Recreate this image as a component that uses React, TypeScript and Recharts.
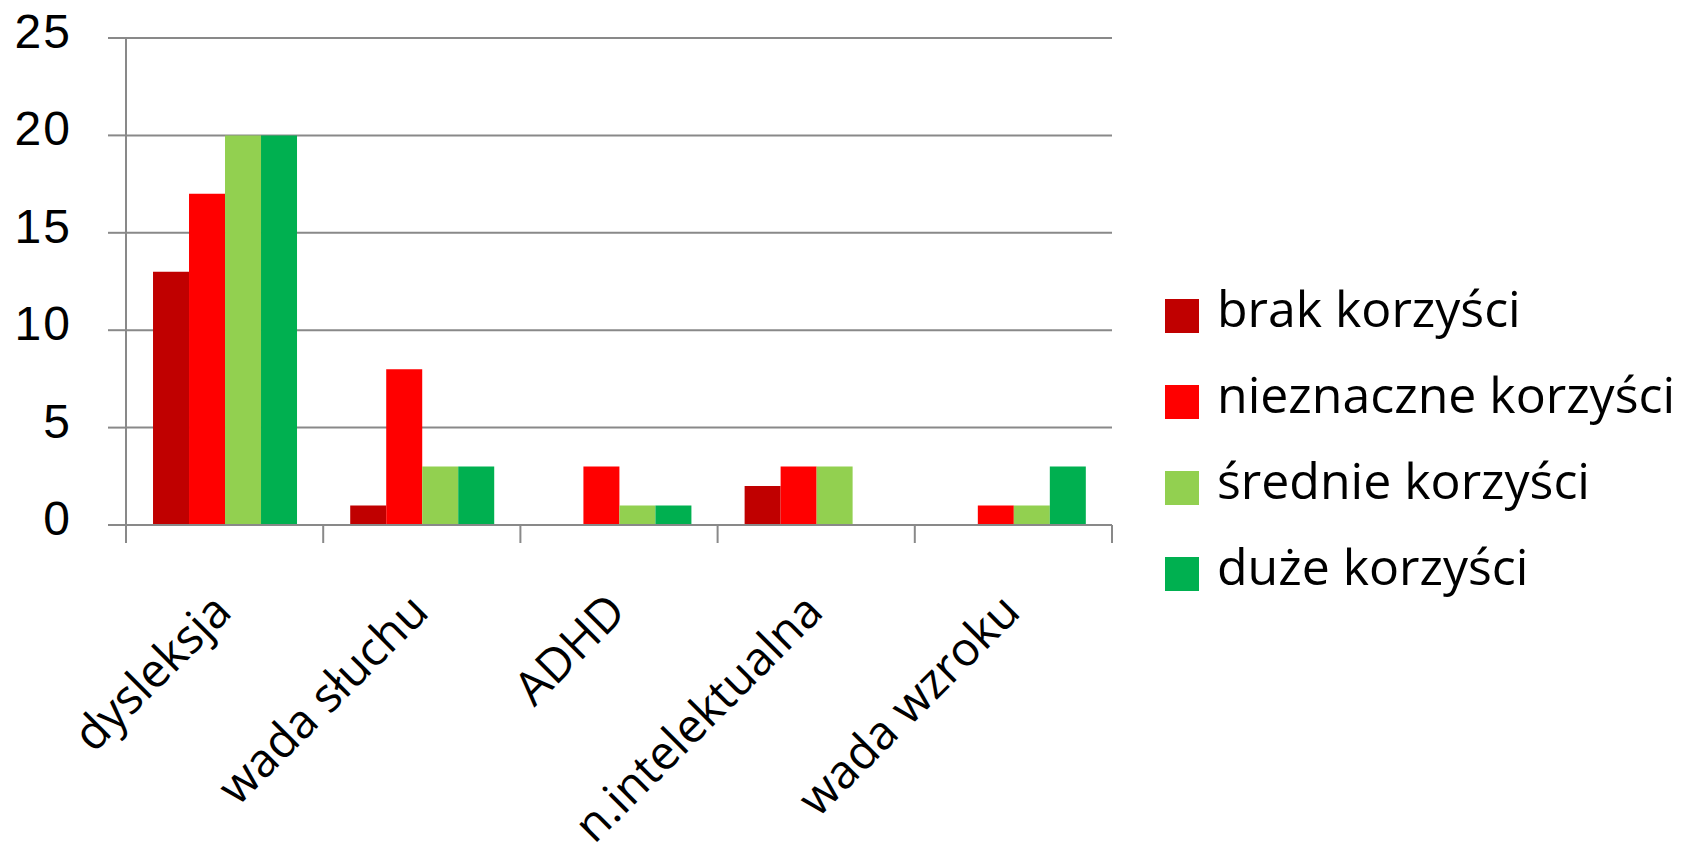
import React from "react";
import { BarChart, Bar, XAxis, YAxis, CartesianGrid, Legend } from "recharts";

const categories = ["dysleksja", "wada słuchu", "ADHD", "n.intelektualna", "wada wzroku"];
const seriesNames = ["brak korzyści", "nieznaczne korzyści", "średnie korzyści", "duże korzyści"];
const brak = [13, 1, 0, 2, 0];
const nieznaczne = [17, 8, 3, 3, 1];
const srednie = [20, 3, 1, 3, 1];
const duze = [20, 3, 1, 0, 3];
const yTicks = [0, 5, 10, 15, 20, 25];

const seriesValues = [brak, nieznaczne, srednie, duze];
const seriesColors = ["#C00000", "#FF0000", "#92D050", "#00B050"];
const seriesKeys = ["s0", "s1", "s2", "s3"];

const data = categories.map((c, i) => {
  const row: Record<string, string | number> = { name: c };
  seriesKeys.forEach((k, s) => {
    row[k] = seriesValues[s][i];
  });
  return row;
});

const CHART_W = 1693;
const CHART_H = 860;
const MARGIN = { top: 38, right: 581, left: 0, bottom: 35 };
const YAXIS_W = 126;
const XAXIS_H = CHART_H - MARGIN.top - MARGIN.bottom - 487;
const AXIS_COLOR = "#898989";
const FONT = "'Open Sans', sans-serif";
const TICK_FONT = "'Liberation Sans', Arial, sans-serif";
const PLOT_W = CHART_W - MARGIN.left - MARGIN.right - YAXIS_W;
const BAND = PLOT_W / categories.length;

const YTick = (props: any) => {
  const { x, y, payload } = props;
  return (
    <text x={x} y={y} dy={10} textAnchor="end" fontSize={48} fontFamily={TICK_FONT} fill="#000" letterSpacing={2}>
      {payload.value}
    </text>
  );
};

const XTick = (props: any) => {
  const { x, y, payload, index } = props;
  const left = x - BAND / 2;
  const right = x + BAND / 2;
  const ax = x + 9;
  const ay = y + 89;
  return (
    <g>
      <line x1={left} x2={left} y1={y} y2={y + 18} stroke={AXIS_COLOR} strokeWidth={2} />
      {index === categories.length - 1 && (
        <line x1={right} x2={right} y1={y} y2={y + 18} stroke={AXIS_COLOR} strokeWidth={2} />
      )}
      <text
        x={ax}
        y={ay}
        transform={`rotate(-45, ${ax}, ${ay})`}
        textAnchor="end"
        fontSize={47}
        fontFamily={FONT}
        fill="#000"
      >
        {payload.value}
      </text>
    </g>
  );
};

const LegendContent = () => (
  <svg width={530} height={340} style={{ display: "block", overflow: "visible" }}>
    {seriesNames.map((n, i) => (
      <g key={n}>
        <rect x={0} y={i * 86} width={34} height={34} fill={seriesColors[i]} />
        <text x={52} y={i * 86 + 28} fontSize={50} fontFamily={FONT} fill="#000">
          {n}
        </text>
      </g>
    ))}
  </svg>
);

export default function App() {
  return (
    <div style={{ position: "absolute", left: 0, top: 0, width: CHART_W, height: CHART_H, background: "#fff" }}>
      <BarChart
        width={CHART_W}
        height={CHART_H}
        data={data}
        margin={MARGIN}
        barCategoryGap="13.7%"
        barGap={0}
      >
        <CartesianGrid horizontal vertical={false} stroke={AXIS_COLOR} strokeWidth={2} />
        <XAxis
          dataKey="name"
          height={XAXIS_H}
          interval={0}
          tickSize={0}
          tickMargin={0}
          tickLine={false}
          axisLine={{ stroke: AXIS_COLOR, strokeWidth: 2 }}
          tick={<XTick />}
        />
        <YAxis
          width={YAXIS_W}
          domain={[0, 25]}
          ticks={yTicks}
          interval={0}
          tickSize={18}
          tickMargin={36}
          tickLine={{ stroke: AXIS_COLOR, strokeWidth: 2 }}
          axisLine={{ stroke: AXIS_COLOR, strokeWidth: 2 }}
          tick={<YTick />}
        />
        <Legend
          layout="horizontal"
          align="center"
          verticalAlign="middle"
          wrapperStyle={{ left: 1165, top: 299, width: 530, height: 340 }}
          content={<LegendContent />}
        />
        {seriesKeys.map((k, i) => (
          <Bar key={k} dataKey={k} name={seriesNames[i]} fill={seriesColors[i]} isAnimationActive={false} />
        ))}
      </BarChart>
    </div>
  );
}
